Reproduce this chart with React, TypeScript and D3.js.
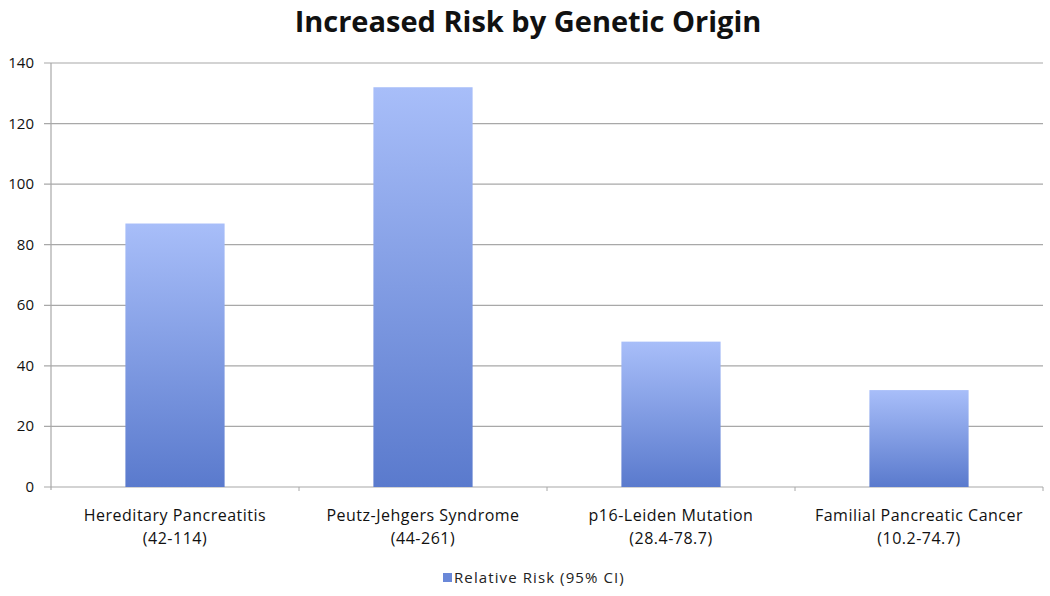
import React from "react";
import * as d3 from "d3";

const categories = ["Hereditary Pancreatitis", "Peutz-Jehgers Syndrome", "p16-Leiden Mutation", "Familial Pancreatic Cancer"];
const ranges = ["(42-114)", "(44-261)", "(28.4-78.7)", "(10.2-74.7)"];
const values = [87, 132, 48, 32];
const yTicks = [0, 20, 40, 60, 80, 100, 120, 140];
const seriesName = "Relative Risk (95% CI)";
const title = "Increased Risk by Genetic Origin";

export default function App() {
  const W = 1050, H = 596;
  const left = 51, right = 1043, top = 63, bottom = 487;
  const x = d3.scaleBand<string>().domain(categories).range([left, right]).paddingInner(0.6).paddingOuter(0.3);
  const xOuter = d3.scaleBand<string>().domain(categories).range([left, right]);
  const y = d3.scaleLinear().domain([0, 140]).range([bottom, top]);
  const font = "'Open Sans', sans-serif";
  return (
    <svg width={W} height={H} style={{ position: "absolute", left: 0, top: 0, background: "#fff" }}>
      <defs>
        <linearGradient id="barGrad" x1="0" y1="0" x2="0" y2="1">
          <stop offset="0%" stopColor="#a8bef9" />
          <stop offset="100%" stopColor="#5a7acd" />
        </linearGradient>
      </defs>
      <text x={528} y={32} textAnchor="middle" fontFamily={font} fontWeight="bold" fontSize={29} fill="#111">{title}</text>
      {yTicks.map((t) => (
        <g key={t}>
          <line x1={left - 7} x2={right} y1={y(t)} y2={y(t)} stroke="#a8a8a8" strokeWidth={1.2} />
          <text x={left - 17} y={y(t) + 5} textAnchor="end" fontFamily={font} fontSize={15} fill="#111">{t}</text>
        </g>
      ))}
      <line x1={left} x2={left} y1={top} y2={bottom + 3} stroke="#a8a8a8" strokeWidth={1.2} />
      {categories.map((c, i) => (
        <g key={c}>
          <rect x={x(c)} y={y(values[i])} width={x.bandwidth()} height={bottom - y(values[i])} fill="url(#barGrad)" />
          <line x1={(xOuter(c) as number) + xOuter.bandwidth()} x2={(xOuter(c) as number) + xOuter.bandwidth()} y1={bottom} y2={bottom + 4} stroke="#a8a8a8" />
          <text x={(xOuter(c) as number) + xOuter.bandwidth() / 2} y={521} textAnchor="middle" fontFamily={font} fontSize={16} letterSpacing={0.5} fill="#111">{c}</text>
          <text x={(xOuter(c) as number) + xOuter.bandwidth() / 2} y={544} textAnchor="middle" fontFamily={font} fontSize={16} letterSpacing={0.5} fill="#111">{ranges[i]}</text>
        </g>
      ))}
      <rect x={443} y={573} width={9} height={9} fill="#6a88d8" />
      <text x={454} y={583} fontFamily={font} fontSize={15} letterSpacing={1.1} fill="#222">{seriesName}</text>
    </svg>
  );
}
